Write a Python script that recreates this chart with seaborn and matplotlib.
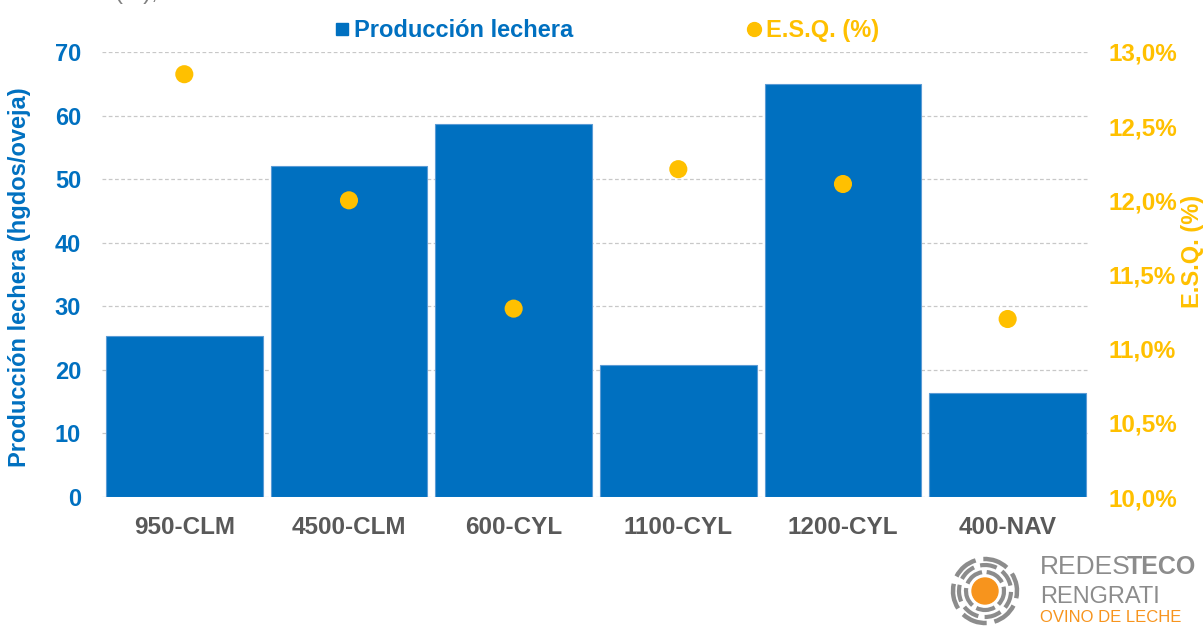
import numpy as np
import pandas as pd
import matplotlib
matplotlib.use('Agg')
import matplotlib.pyplot as plt
from matplotlib.patches import Circle, Arc
from matplotlib.lines import Line2D
import seaborn as sns

# Datos
granjas = ['950-CLM', '4500-CLM', '600-CYL', '1100-CYL', '1200-CYL', '400-NAV']
produccion = [25.3, 52.1, 58.6, 20.8, 64.9, 16.4]
esq = [12.85, 12.00, 11.27, 12.21, 12.11, 11.20]
ticks_izq = [0, 10, 20, 30, 40, 50, 60, 70]
ticks_der = [10.0, 10.5, 11.0, 11.5, 12.0, 12.5, 13.0]

AZUL = '#0070C0'
AMARILLO = '#FFC000'
GRIS = '#595959'
NARANJA = '#F7941D'

sns.set_theme(style='white')
plt.rcParams['font.family'] = ['Liberation Sans', 'DejaVu Sans']
plt.rcParams['font.weight'] = 'bold'

df = pd.DataFrame({'granja': granjas, 'produccion': produccion, 'esq': esq})

fig = plt.figure(figsize=(12.04, 6.26), dpi=100)
ax = fig.add_axes([0.0847, 0.206, 0.8206, 0.711])

sns.barplot(data=df, x='granja', y='produccion', color=AZUL, saturation=1,
            width=0.95, edgecolor='#5B9BD5', linewidth=0.8, ax=ax)
ax.set_ylim(0, 70)
ax.set_xlim(-0.5, 5.5)
ax.set_yticks(ticks_izq)
ax.yaxis.grid(True, linestyle=(0, (3, 2)), color='#C8C8C8', linewidth=0.9)
ax.set_axisbelow(True)
for s in ax.spines.values():
    s.set_visible(False)
ax.tick_params(axis='y', labelsize=17, labelcolor=AZUL, length=0, pad=15)
ax.tick_params(axis='x', labelsize=17.5, labelcolor=GRIS, length=0, pad=14)
ax.set_xlabel('')
ax.set_ylabel('Producción lechera (hgdos/oveja)', color=AZUL, fontsize=17,
              fontweight='bold')
ax.yaxis.set_label_coords(-0.072, 0.495)

ax2 = ax.twinx()
sns.scatterplot(data=df, x='granja', y='esq', color=AMARILLO, s=170,
                edgecolor='none', ax=ax2, zorder=5)
ax2.set_ylim(10, 13)
ax2.set_yticks(ticks_der)
ax2.set_yticklabels([f'{v:.1f}%'.replace('.', ',') for v in ticks_der])
for s in ax2.spines.values():
    s.set_visible(False)
ax2.tick_params(axis='y', labelsize=17.5, labelcolor=AMARILLO, length=0, pad=13)
ax2.set_ylabel('')
ax2.set_xlim(-0.5, 5.5)
fig.text(1192 / 1204, 1 - 251 / 626, 'E.S.Q. (%)', rotation=90, ha='center',
         va='center', color=AMARILLO, fontsize=17, fontweight='bold')

# Leyenda superior
handles = [Line2D([], [], marker='s', linestyle='', color=AZUL, markersize=9),
           Line2D([], [], marker='o', linestyle='', color=AMARILLO, markersize=10)]
leg = fig.legend(handles, ['Producción lechera', 'E.S.Q. (%)'], loc='center',
                 bbox_to_anchor=(0.5037, 0.951), ncol=2, frameon=False,
                 fontsize=17, handletextpad=0.15, columnspacing=7.3, handlelength=0.7)
leg.get_texts()[0].set_color(AZUL)
leg.get_texts()[1].set_color(AMARILLO)

# Titulo recortado arriba
fig.text(158 / 1204, 1 + 1 / 626, '(%),', ha='right', va='baseline',
         color='#7F7F7F', fontsize=17, fontweight='normal')

# Logo
lax = fig.add_axes([935 / 1204, 0, 100 / 1204, 100 / 626])
lax.set_xlim(-50, 50)
lax.set_ylim(-50, 50)
lax.set_aspect('equal')
lax.axis('off')
cy = -15
lax.add_patch(Circle((0, cy), 13, color=NARANJA))
for r, n, lw, off in [(19, 5, 3, 20), (26, 7, 3, 5), (32, 6, 3.2, 40)]:
    step = 360 / n
    for i in range(n):
        lax.add_patch(Arc((0, cy), 2 * r, 2 * r, theta1=off + i * step + 7,
                          theta2=off + (i + 1) * step - 7, color='#8C8C8C', lw=lw))
fig.text(1040 / 1204, 1 - 567 / 626, 'REDES', color='#8C8C8C', fontsize=19,
         fontweight='normal', va='center')
fig.text(1127 / 1204, 1 - 567 / 626, 'TECO', color='#8C8C8C', fontsize=18,
         fontweight='bold', va='center')
fig.text(1040 / 1204, 1 - 597 / 626, 'RENGRATI', color='#8C8C8C', fontsize=17,
         fontweight='normal', va='center')
fig.text(1040 / 1204, 1 - 617 / 626, 'OVINO DE LECHE', color=NARANJA, fontsize=12,
         fontweight='normal', va='center')

fig.savefig('out.png', dpi=100)
